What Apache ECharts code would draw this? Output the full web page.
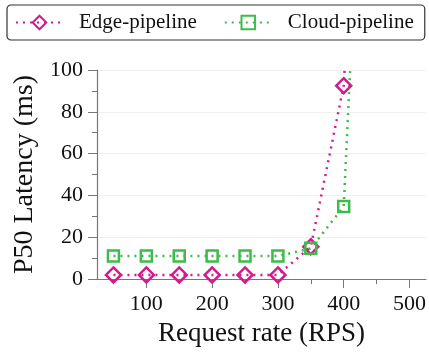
<!DOCTYPE html>
<html><head><meta charset="utf-8">
<script src="https://cdn.jsdelivr.net/npm/echarts@6/dist/echarts.min.js"></script>
<style>html,body{margin:0;padding:0;background:#fff}#c{width:429px;height:352px}</style>
</head><body><div id="c"></div>
<script>
const xValues = [50, 100, 150, 200, 250, 300, 350, 400, 450];
const edgeLatency = [2, 2, 2, 2, 2, 2, 15.5, 92.5, 370];
const cloudLatency = [11, 11, 11, 11, 11, 11, 14.7, 34.7, 370];
const xTicks = [100, 200, 300, 400, 500];
const xMinorTicks = [50, 150, 250, 350, 450];
const EDGE = '#d4198c', CLOUD = '#3dbb4b';
const font = 'Liberation Serif';
const chart = echarts.init(document.getElementById('c'));
const pair = arr => xValues.map((x, i) => [x, arr[i]]);
chart.setOption({
  animation: false,
  textStyle: {fontFamily: font},
  grid: {left: 97, right: 2, top: 70, bottom: 69},
  legend: {
    top: 5, left: 7,
    padding: [7, 11, 7, 8],
    borderColor: '#333', borderWidth: 1.2, borderRadius: 4,
    itemWidth: 47, itemHeight: 17, itemGap: 27,
    textStyle: {fontFamily: font, fontSize: 21, color: '#111', padding: [0, 0, 0, 11]},
    data: ['Edge-pipeline', 'Cloud-pipeline']
  },
  xAxis: [{
    type: 'value', min: 25, max: 525,
    name: 'Request rate (RPS)', nameLocation: 'middle', nameGap: 39,
    nameTextStyle: {fontFamily: font, fontSize: 27, color: '#111'},
    axisLine: {lineStyle: {color: '#777', width: 1.2}},
    axisTick: {customValues: xTicks, length: 9, lineStyle: {color: '#777'}},
    axisLabel: {customValues: xTicks, fontFamily: font, fontSize: 22, color: '#111', margin: 14},
    splitLine: {show: false}
  }, {
    type: 'value', min: 25, max: 525, position: 'bottom',
    axisLine: {show: false},
    axisTick: {customValues: xMinorTicks, length: 5, lineStyle: {color: '#777'}},
    axisLabel: {show: false}, splitLine: {show: false}
  }],
  yAxis: {
    type: 'value', min: 0, max: 100, interval: 20,
    name: 'P50 Latency (ms)', nameLocation: 'middle', nameGap: 55,
    nameTextStyle: {fontFamily: font, fontSize: 28, color: '#111'},
    axisLine: {show: true, lineStyle: {color: '#777', width: 1.2}},
    axisTick: {show: true, length: 9, lineStyle: {color: '#777'}},
    minorTick: {show: true, splitNumber: 2, length: 5, lineStyle: {color: '#777'}},
    axisLabel: {fontFamily: font, fontSize: 22, color: '#111', margin: 14},
    splitLine: {show: true, lineStyle: {color: '#f0f0f0', width: 1}}
  },
  series: [{
    name: 'Edge-pipeline', type: 'line', data: pair(edgeLatency),
    symbol: 'diamond', symbolSize: [15, 15],
    lineStyle: {color: EDGE, width: 2.5, type: [2, 5]},
    itemStyle: {color: 'transparent', borderColor: EDGE, borderWidth: 2.5}
  }, {
    name: 'Cloud-pipeline', type: 'line', data: pair(cloudLatency),
    symbol: 'rect', symbolSize: 11,
    lineStyle: {color: CLOUD, width: 2.5, type: [2, 5]},
    itemStyle: {color: 'transparent', borderColor: CLOUD, borderWidth: 2.5}
  }]
});
</script></body></html>
